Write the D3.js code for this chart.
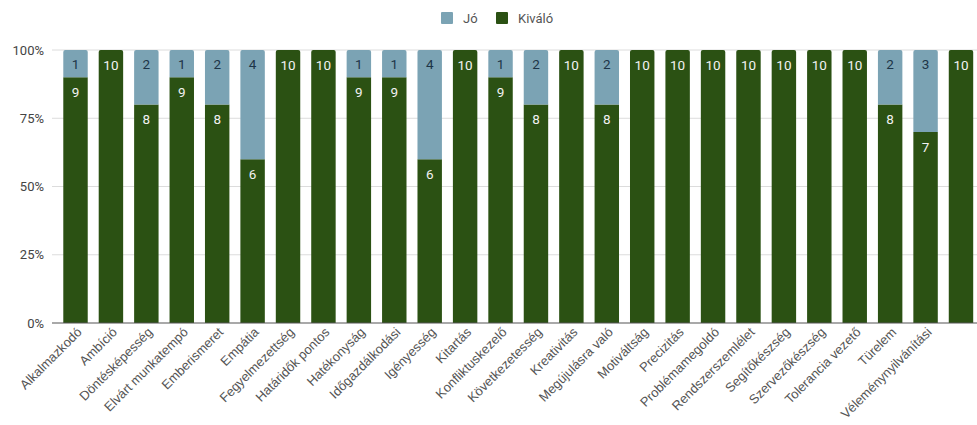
<!DOCTYPE html>
<html>
<head>
<meta charset="utf-8">
<script src="https://cdn.jsdelivr.net/npm/d3@7"></script>
<style>
  html, body { margin: 0; padding: 0; background: #fff; }
  svg { display: block; }
</style>
</head>
<body>
<svg id="chart" width="977" height="425"></svg>
<script>
const categories = ["Alkalmazkodó","Ambíció","Döntésképesség","Elvárt munkatempó","Emberismeret","Empátia","Fegyelmezettség","Határidők pontos","Hatékonyság","Időgazdálkodási","Igényesség","Kitartás","Konfliktuskezelő","Következetesség","Kreativitás","Megújulásra való","Motiváltság","Precizitás","Problémamegoldó","Rendszerszemlélet","Segítőkészség","Szervezőkészség","Tolerancia vezető","Türelem","Véleménynyilvánítási",""];
const kivalo = [9,10,8,9,8,6,10,10,9,9,6,10,9,8,10,8,10,10,10,10,10,10,10,8,7,10];
const jo     = [1,0,2,1,2,4,0,0,1,1,4,0,1,2,0,2,0,0,0,0,0,0,0,2,3,0];
const seriesNames = ["Jó","Kiváló"];
const yTicks = [0, 0.25, 0.5, 0.75, 1];

const colors = { "Jó": "#7ba3b4", "Kiváló": "#2b5113" };

const svg = d3.select("#chart");
const W = 977, H = 425;
const plotLeft = 52, plotTop = 50, plotBottom = 323;

const x = d3.scaleBand().domain(categories).range([57.8, 978.7]).paddingInner(0.31).paddingOuter(0.155);
const y = d3.scaleLinear().domain([0, 1]).range([plotBottom, plotTop]);

// grid
svg.append("g").selectAll("line").data(yTicks.filter(d => d > 0)).join("line")
  .attr("x1", plotLeft).attr("x2", W)
  .attr("y1", d => y(d)).attr("y2", d => y(d))
  .attr("stroke", "#dcdcdc").attr("stroke-width", 1);

// y labels
svg.append("g").selectAll("text").data(yTicks).join("text")
  .attr("x", 44).attr("y", d => y(d)).attr("dy", "0.35em")
  .attr("text-anchor", "end")
  .attr("font-family", "Roboto, Arial, sans-serif").attr("font-size", 13)
  .attr("fill", "#444")
  .text(d => d3.format(".0%")(d));

const data = categories.map((c, i) => ({ cat: c, "Kiváló": kivalo[i], "Jó": jo[i], total: kivalo[i] + jo[i] }));

// bars with rounded top
function barPath(x0, w, yTop, yBot, r) {
  r = Math.min(r, (yBot - yTop));
  return `M${x0},${yBot}V${yTop + r}Q${x0},${yTop} ${x0 + r},${yTop}H${x0 + w - r}Q${x0 + w},${yTop} ${x0 + w},${yTop + r}V${yBot}Z`;
}

const bw = x.bandwidth();
const g = svg.append("g");
data.forEach(d => {
  const x0 = x(d.cat);
  const kTop = y(d["Kiváló"] / d.total);
  const jTop = y((d["Kiváló"] + d["Jó"]) / d.total);
  if (d["Kiváló"] > 0) {
    const rounded = d["Jó"] === 0;
    g.append("path")
      .attr("d", rounded ? barPath(x0, bw, kTop, y(0), 2) : `M${x0},${y(0)}V${kTop}H${x0 + bw}V${y(0)}Z`)
      .attr("fill", colors["Kiváló"]);
    g.append("text")
      .attr("x", x0 + bw / 2).attr("y", kTop + 15).attr("dy", "0.35em")
      .attr("text-anchor", "middle")
      .attr("font-family", "Roboto, Arial, sans-serif").attr("font-size", 13.5)
      .attr("fill", "#f2f2f2")
      .text(d["Kiváló"]);
  }
  if (d["Jó"] > 0) {
    g.append("path")
      .attr("d", barPath(x0, bw, jTop, kTop, 2))
      .attr("fill", colors["Jó"]);
    g.append("text")
      .attr("x", x0 + bw / 2).attr("y", jTop + 14).attr("dy", "0.35em")
      .attr("text-anchor", "middle")
      .attr("font-family", "Roboto, Arial, sans-serif").attr("font-size", 13.5)
      .attr("fill", "#1d3548")
      .text(d["Jó"]);
  }
});

// baseline
svg.append("line")
  .attr("x1", plotLeft).attr("x2", W)
  .attr("y1", y(0)).attr("y2", y(0))
  .attr("stroke", "#555").attr("stroke-width", 1.2);

// x labels
svg.append("g").selectAll("text").data(categories).join("text")
  .attr("transform", d => `translate(${x(d) + bw / 2 + 7},${plotBottom + 10}) rotate(-45)`)
  .attr("text-anchor", "end")
  .attr("font-family", "Arial, 'Liberation Sans', sans-serif").attr("font-size", 13)
  .attr("fill", "#555")
  .text(d => d);

// legend
const legend = svg.append("g");
const legendItems = [{ name: seriesNames[0], x: 441, tx: 463 }, { name: seriesNames[1], x: 496, tx: 518 }];
legendItems.forEach(it => {
  legend.append("rect").attr("x", it.x).attr("y", 12).attr("width", 12).attr("height", 12)
    .attr("rx", 1).attr("fill", colors[it.name]);
  legend.append("text").attr("x", it.tx).attr("y", 18).attr("dy", "0.35em")
    .attr("font-family", "Roboto, Arial, sans-serif").attr("font-size", 13)
    .attr("fill", "#555").text(it.name);
});
</script>
</body>
</html>
